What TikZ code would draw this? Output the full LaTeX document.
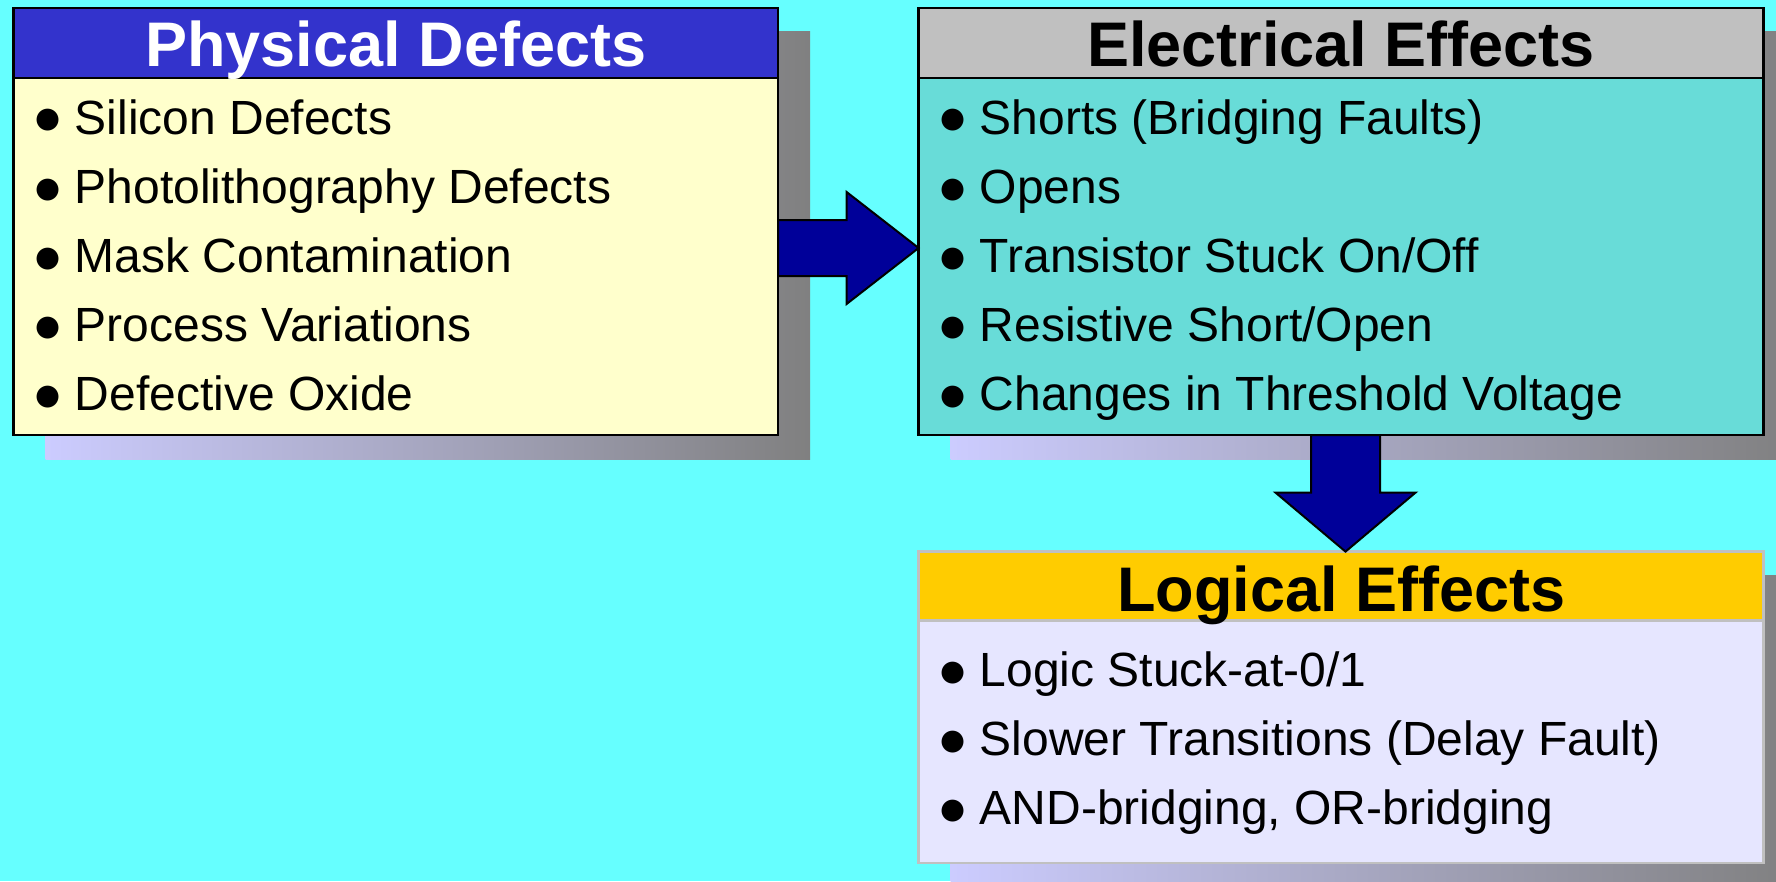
\documentclass[tikz,border=0pt]{standalone}
\usepackage{fontspec}
\setmainfont{Liberation Sans}
\newfontfamily\dotfont{DejaVu Sans}
\usetikzlibrary{fit,calc}

\definecolor{bgcyan}{HTML}{66FFFF}
\definecolor{physhead}{HTML}{3333CC}
\definecolor{physbody}{HTML}{FFFFCC}
\definecolor{elechead}{HTML}{C0C0C0}
\definecolor{elecbody}{RGB}{104,220,216}
\definecolor{logichead}{HTML}{FFCC00}
\definecolor{logicbody}{HTML}{E6E6FF}
\definecolor{logicline}{HTML}{C0C0C0}
\definecolor{arrowblue}{HTML}{000099}
\definecolor{shadeL}{HTML}{CCCCFF}
\definecolor{shadeR}{HTML}{808080}

% round bullet centred 20pt to the left of the item text
\newcommand\bul{\llap{\makebox[0pt][c]{\raisebox{4.8pt}{\dotfont\fontsize{21.5pt}{21.5pt}\selectfont ●}}\hspace{20.25pt}}}

\tikzset{
  panel/.style={inner sep=0pt, outer sep=0pt, draw=black, line width=1.8pt},
  softpanel/.style={panel, draw=logicline, line width=2.2pt},
  headtext/.style={anchor=base, inner sep=0pt, font=\fontsize{47.25pt}{50pt}\selectfont\bfseries},
  item/.style={anchor=base west, inner sep=0pt, font=\fontsize{36pt}{40pt}\selectfont},
  fatarrow/.style={fill=arrowblue, draw=black, line width=1.5pt, line join=miter},
  dropshade/.style={left color=shadeL, right color=shadeR},
}

\begin{document}
\begin{tikzpicture}[x=0.75pt,y=-0.75pt]
\useasboundingbox (0,0) rectangle (1776,881);
\fill[bgcyan] (0,0) rectangle (1776,881);

% drop shadows
\begin{scope}
  \clip (0,0) rectangle (1776,881);
  \shade[dropshade] (45.6,31.9) rectangle (810,459);
  \shade[dropshade] (950.6,31.9) rectangle (1795.6,459);
  \shade[dropshade] (950.6,575.6) rectangle (1795.6,887);
\end{scope}

% Physical Defects
\node[panel, fill=physbody, fit={(13.6,7.9) (778,435)}] (phys) {};
\node[panel, fill=physhead, fit={(13.6,7.9) (778,78)}] (physhd) {};
\node[headtext, text=white] (physttl) at (physhd.center |- 0,66) {Physical Defects};
\node[item] (p1) at (74.6,134.3) {\bul Silicon Defects};
\node[item] (p2) at (74.6,203.4) {\bul Photolithography Defects};
\node[item] (p3) at (74.6,272.5) {\bul Mask Contamination};
\node[item] (p4) at (74.6,341.6) {\bul Process Variations};
\node[item] (p5) at (74.6,410.7) {\bul Defective Oxide};

% Electrical Effects
\node[panel, fill=elecbody, fit={(918.6,7.9) (1763.6,435)}] (elec) {};
\node[panel, fill=elechead, fit={(918.6,7.9) (1763.6,78)}] (elechd) {};
\node[headtext] (electtl) at (elechd.center |- 0,66) {Electrical Effects};
\node[item] (e1) at (979.6,134.3) {\bul Shorts (Bridging Faults)};
\node[item] (e2) at (979.6,203.4) {\bul Opens};
\node[item] (e3) at (979.6,272.5) {\bul Transistor Stuck On/Off};
\node[item] (e4) at (979.6,341.6) {\bul Resistive Short/Open};
\node[item] (e5) at (979.6,410.7) {\bul Changes in Threshold Voltage};

% Logical Effects
\node[softpanel, fill=logicbody, fit={(918.6,551.6) (1763.6,863)}] (logic) {};
\node[softpanel, fill=logichead, fit={(918.6,551.6) (1763.6,620.7)}] (logichd) {};
\node[headtext] (logicttl) at (logichd.center |- 0,611) {Logical Effects};
\node[item] (l1) at (979.6,686.7) {\bul Logic Stuck-at-0/1};
\node[item] (l2) at (979.6,755.8) {\bul Slower Transitions (Delay Fault)};
\node[item] (l3) at (979.6,824.9) {\bul AND-bridging, OR-bridging};

% block arrows between the panels
\coordinate (a1s) at (phys.east |- 0,248);
\coordinate (a1t) at (elec.west |- 0,248);
\draw[fatarrow] ($(a1s)+(0,-28)$) -- ($(a1t)+(-72,-28)$) -- ($(a1t)+(-72,-56)$)
  -- (a1t) -- ($(a1t)+(-72,56)$) -- ($(a1t)+(-72,28)$) -- ($(a1s)+(0,28)$) -- cycle;

\coordinate (a2s) at (elec.south -| 1345.5,0);
\coordinate (a2t) at (logic.north -| 1345.5,0);
\draw[fatarrow] ($(a2s)+(-34.5,0)$) -- ($(a2t)+(-34.5,-59)$) -- ($(a2t)+(-70,-59)$)
  -- (a2t) -- ($(a2t)+(70,-59)$) -- ($(a2t)+(34.5,-59)$) -- ($(a2s)+(34.5,0)$) -- cycle;
\end{tikzpicture}
\end{document}
